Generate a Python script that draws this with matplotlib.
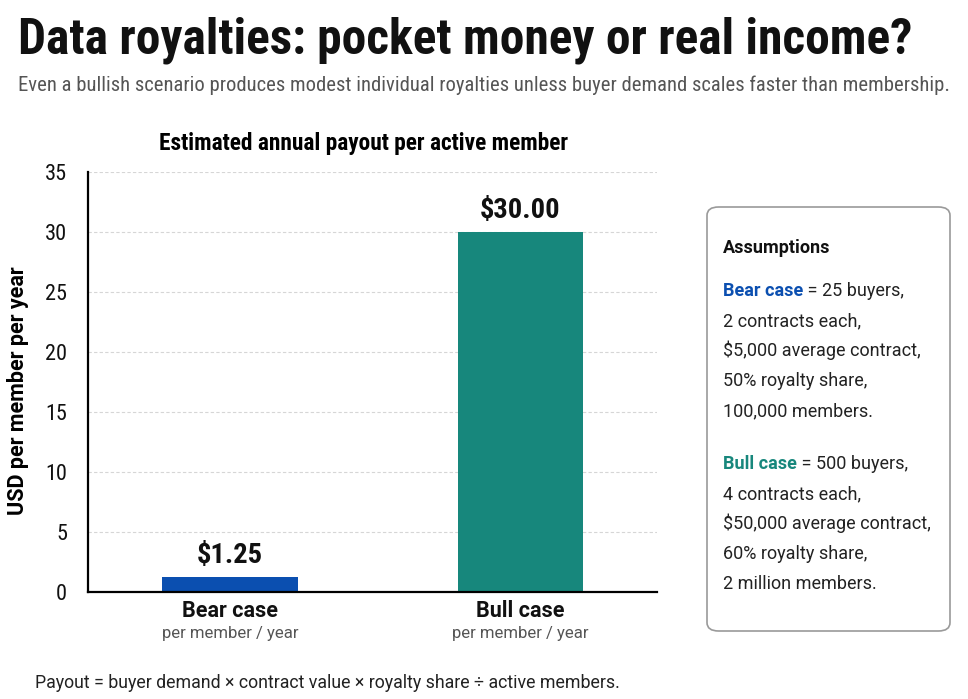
import matplotlib
matplotlib.use("Agg")
import matplotlib.pyplot as plt
from matplotlib.patches import FancyBboxPatch
from matplotlib.text import Annotation
from matplotlib import font_manager

# chart data
cases = ["Bear case", "Bull case"]
payouts = [1.25, 30.00]
case_sub = "per member / year"
bar_colors = ["#0b4fb0", "#17877c"]
y_ticks = [0, 5, 10, 15, 20, 25, 30, 35]

bear_first = "= 25 buyers,"
bear_lines = ["2 contracts each,", "$5,000 average contract,", "50% royalty share,", "100,000 members."]
bull_first = "= 500 buyers,"
bull_lines = ["4 contracts each,", "$50,000 average contract,", "60% royalty share,", "2 million members."]

names = {f.name for f in font_manager.fontManager.ttflist}
body = "Roboto" if "Roboto" in names else "DejaVu Sans"
narrow = body
for cand in ["Roboto Condensed", "Liberation Sans Narrow", "Open Sans Condensed"]:
    if cand in names:
        narrow = cand
        break

W, H = 968, 699
fig = plt.figure(figsize=(W / 100, H / 100), dpi=100)
renderer = fig.canvas.get_renderer()

def fx(px):
    return px / W

def fy(py):
    return 1 - py / H

def fit_width(t, width_px):
    # shrink/grow a text so it spans the given pixel width
    w = t.get_window_extent(renderer).width
    t.set_fontsize(t.get_fontsize() * width_px / w)

# titles
title = fig.text(fx(18), fy(53), "Data royalties: pocket money or real income?", family=narrow,
                 weight="bold", fontsize=40, color="#111111", va="baseline")
fit_width(title, 894)
sub = fig.text(fx(18), fy(91), "Even a bullish scenario produces modest individual royalties unless buyer demand scales faster than membership.",
               family=narrow, fontsize=15, color="#555555", va="baseline")
fit_width(sub, 930)

ax = fig.add_axes([fx(88), fy(592), fx(657) - fx(88), fy(172) - fy(592)])
x = list(range(len(cases)))
bars = ax.bar(x, payouts, width=[0.47, 0.43], color=bar_colors, zorder=2)
ax.set_xlim(-0.49, 1.47)
ax.set_ylim(0, 35)
ax.set_yticks(y_ticks)
ax.set_yticklabels([str(t) for t in y_ticks], family=narrow, fontsize=16, color="#111111")
ax.tick_params(axis="y", length=0, pad=15)
ax.set_xticks([])
ax.grid(axis="y", color="#d6d6d6", linestyle=(0, (3, 2)), linewidth=0.8, zorder=0)
for s in ["top", "right"]:
    ax.spines[s].set_visible(False)
ax.spines["left"].set_linewidth(1.6)
ax.spines["bottom"].set_linewidth(1.6)
ax.set_ylabel("USD per member per year", family=body, weight="bold", fontsize=15.5)
ax.yaxis.set_label_coords(-0.103, 0.48)
ax.set_title("Estimated annual payout per active member", family=narrow, weight="bold",
             fontsize=16.8, pad=16, x=0.485)

for b, v in zip(bars, payouts):
    ax.annotate(f"${v:.2f}", (b.get_x() + b.get_width() / 2, v), xytext=(0, 6),
                textcoords="offset points", ha="center", va="bottom", family=narrow,
                weight="bold", fontsize=20.5, color="#111111")

tr = ax.get_xaxis_transform()
for xi, name in zip(x, cases):
    ax.text(xi, -0.019, name, transform=tr, ha="center", va="top", family=body,
            weight="bold", fontsize=15.5, color="#111111")
    ax.text(xi, -0.082, case_sub, transform=tr, ha="center", va="top", family=body,
            fontsize=12, color="#555555")

fig.text(fx(35), fy(688), "Payout = buyer demand \u00d7 contract value \u00d7 royalty share \u00f7 active members.",
         family=body, fontsize=12.8, color="#222222", va="baseline")

# assumptions box
box = FancyBboxPatch((fx(707), fy(631)), fx(950) - fx(707), fy(207) - fy(631),
                     boxstyle="round,pad=0,rounding_size=0.012", transform=fig.transFigure,
                     facecolor="white", edgecolor="#9a9a9a", linewidth=1.2)
fig.patches.append(box)

tx = fx(723)
fig.text(tx, fy(253), "Assumptions", family=body, weight="bold", fontsize=13, color="#111111", va="baseline")

def case_block(y0, label, color, first, rest):
    t = fig.text(tx, fy(y0), label, family=body, weight="bold", fontsize=13, color=color, va="baseline")
    fig.add_artist(Annotation(" " + first, xy=(1, 0), xycoords=t, va="bottom", ha="left",
                              family=body, fontsize=13, color="#222222"))
    for i, line in enumerate(rest):
        fig.text(tx, fy(y0 + 30 * (i + 1)), line, family=body, fontsize=13, color="#222222", va="baseline")

case_block(296, "Bear case", bar_colors[0], bear_first, bear_lines)
case_block(469, "Bull case", bar_colors[1], bull_first, bull_lines)

fig.savefig("out.png", dpi=100)
